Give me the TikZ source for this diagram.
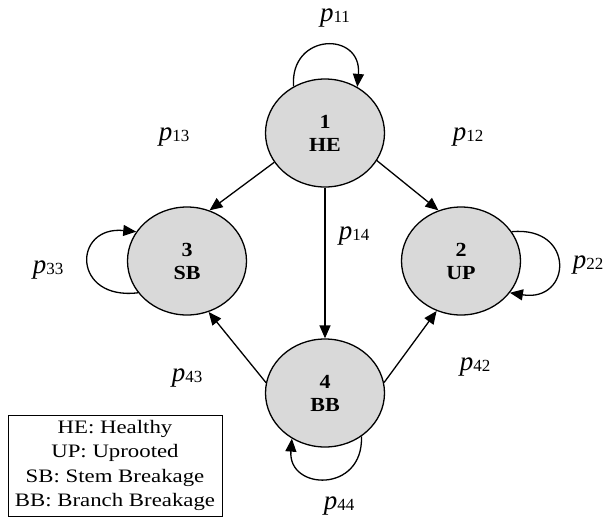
\documentclass[tikz,border=0pt]{standalone}
\usepackage{fontspec}
\setmainfont{Liberation Serif}
\newfontfamily\legfont[FakeStretch=1.2]{Liberation Serif}
\newfontfamily\nodefont[FakeStretch=1.1]{Liberation Serif}
\usetikzlibrary{shapes.geometric,arrows.meta}
\newcommand{\plab}[1]{{\fontsize{27}{27}\selectfont\itshape p}\raisebox{-0.3ex}{\fontsize{17}{17}\selectfont #1}}
\begin{document}
\begin{tikzpicture}[x=1pt,y=-1pt,
  state/.style={ellipse,draw,line width=1.3pt,fill=black!15,minimum width=119pt,minimum height=108pt,inner sep=0pt,align=center,font=\nodefont\fontsize{20}{23}\selectfont\bfseries},
  arr/.style={line width=1.3pt,-{Triangle[length=13pt,width=11pt]}},
  lab/.style={inner sep=0pt}]
\useasboundingbox (0,0) rectangle (614,520);
\node[state] (n1) at (325,133) {1\\HE};
\node[state] (n2) at (461,261) {2\\UP};
\node[state] (n3) at (187,261) {3\\SB};
\node[state] (n4) at (325,393) {4\\BB};
\draw[arr] (n1.210) -- (n3.66);
\draw[arr] (n1.332) -- (n2.114);
\draw[arr] (n1.south) -- (n4.north);
\draw[arr] (n4.170) -- (n3.293);
\draw[arr] (n4.10) -- (n2.244);
\draw[arr] (n1.124) .. controls +(-4,-54) and +(5,-56) .. (n1.55);
\draw[arr] (n2.30) .. controls +(64,-6) and +(62,10) .. (n2.327);
\draw[arr] (n3.213) .. controls +(-66,8) and +(-64,-6) .. (n3.150);
\draw[arr] (n4.310) .. controls +(2,57) and +(-4,52) .. (n4.234);
\node[lab] (l11) at (335,18) {\plab{11}};
\node[lab] (l13) at (174,137) {\plab{13}};
\node[lab] (l12) at (468,137) {\plab{12}};
\node[lab] (l14) at (354,236) {\plab{14}};
\node[lab] (l33) at (48,270) {\plab{33}};
\node[lab] (l22) at (588,265) {\plab{22}};
\node[lab] (l43) at (187,378) {\plab{43}};
\node[lab] (l42) at (475,367) {\plab{42}};
\node[lab] (l44) at (339,506) {\plab{44}};
\node[draw,line width=1pt,minimum width=214pt,minimum height=101pt,inner sep=0pt,align=center,font=\legfont\fontsize{19}{24.5}\selectfont] (leg) at (115,465.5) {HE: Healthy\\UP: Uprooted\\SB: Stem Breakage\\BB: Branch Breakage};
\end{tikzpicture}
\end{document}
